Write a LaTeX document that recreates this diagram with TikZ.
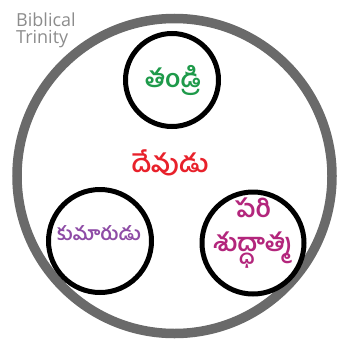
\documentclass[tikz,border=0pt]{standalone}
\usepackage{fontspec}
\setmainfont{Open Sans}
\newfontfamily\telugu[Script=Telugu]{Hind Guntur}
\usepackage{xcolor}
\usetikzlibrary{positioning}
\definecolor{ringgray}{HTML}{6A6A6A}
\definecolor{titlegray}{HTML}{8C8C8C}
\definecolor{fathergreen}{HTML}{1E9A4A}
\definecolor{godred}{HTML}{E8212B}
\definecolor{sonpurple}{HTML}{8E4CA6}
\definecolor{spiritpink}{HTML}{B3267C}

\begin{document}
\begin{tikzpicture}[
    x=1pt, y=-1pt,
    outer/.style={circle, draw=ringgray, line width=9.5pt, minimum size=315pt, inner sep=0pt},
    person/.style={circle, draw=black, line width=5pt, inner sep=0pt},
    tel/.style={align=center, inner sep=0pt}
]
\useasboundingbox (0,0) rectangle (342,340);

% Circles
\node [outer] (trinity) at (174.5,176) {};
\node [person, minimum size=93pt] (father) at (172,80) {};
\node [person, minimum size=103pt] (son) at (100,241) {};
\node [person, minimum size=102pt] (spirit) at (253,243) {};

% Texts
\node [font=\fontsize{18}{17}\selectfont, text=titlegray, align=left, anchor=north west, inner sep=0pt] (title) at (16,13) {Biblical\\Trinity};
\node [tel, text=fathergreen, font=\telugu\bfseries\fontsize{25}{28}\selectfont] (fathertext) at (173,80) {తండ్రి};
\node [tel, text=godred, font=\telugu\bfseries\fontsize{25}{28}\selectfont] (godtext) at (170,163) {దేవుడు};
\node [tel, text=sonpurple, font=\telugu\bfseries\fontsize{19}{24}\selectfont] (sontext) at (99,233) {కుమారుడు};
\node [tel, text=spiritpink, font=\telugu\bfseries\fontsize{25}{34}\selectfont] (spirittext) at (253,233) {పరి\\శుద్ధాత్మ};

\end{tikzpicture}
\end{document}
